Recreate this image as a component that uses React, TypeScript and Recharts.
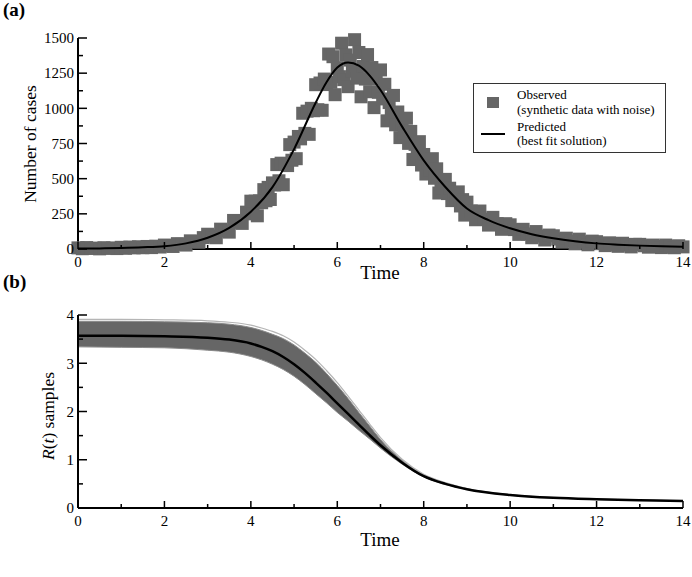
import React from 'react';
import { ComposedChart, Scatter, Line, Area, XAxis, YAxis } from 'recharts';

// panel (a): noisy observations, each row is one day sampled evenly (t = day + k/row.length)
const observedByDay = [
  [8, 2, 10, 4, 6, 1, 9, 5, 7, 3],
  [12, 5, 14, 8, 16, 9, 18, 10, 20, 14],
  [28, 23, 18, 38, 33, 28, 58, 53, 48, 81],
  [105, 92, 80, 141, 128, 120, 203, 190, 182, 262],
  [340, 250, 340, 236, 342, 329, 422, 343, 438, 352, 470, 455, 600, 485, 610, 457, 605, 593, 742, 631],
  [760, 642, 800, 783, 965, 822, 980, 815, 1000, 983, 1168, 990, 1180, 986, 1208, 1169, 1386, 1185, 1367, 1097],
  [1289, 1225, 1463, 1204, 1380, 1154, 1343, 1264, 1488, 1215, 1397, 1082, 1298, 1208, 1382, 1118, 1290, 1005, 1212, 1114],
  [1273, 1067, 1171, 911, 1041, 963, 1092, 883, 974, 792, 892, 823, 930, 751, 836, 636, 744, 676, 763, 597],
  [672, 533, 614, 560, 642, 503, 570, 398, 483, 432, 495, 394, 432, 344, 388, 349, 406, 306, 351, 241],
  [333, 270, 208, 270, 212, 170, 225, 180, 140, 180],
  [172, 138, 104, 140, 107, 80, 124, 92, 64, 99],
  [94, 71, 49, 77, 55, 37, 70, 49, 30, 56],
  [52, 38, 24, 44, 30, 19, 41, 28, 15, 33],
  [33, 23, 13, 28, 18, 10, 28, 18, 9, 23],
  [15],
];

const predictedTime = [0, 0.5, 1, 1.5, 2, 2.5, 3, 3.5, 4, 4.5, 5, 5.5, 5.75, 6, 6.25, 6.5, 6.75, 7, 7.5, 8, 8.5, 9, 9.5, 10, 10.5, 11, 11.5, 12, 12.5, 13, 13.5, 14];
const predictedCases = [3, 4, 7, 12, 20, 40, 80, 150, 265, 440, 710, 1040, 1185, 1290, 1326, 1303, 1233, 1130, 870, 630, 441, 288, 205, 147, 105, 76, 55, 40, 31, 24, 19, 16];

// panel (b): R(t) samples
const rTime = [0, 1, 2, 3, 3.5, 4, 4.25, 4.5, 4.75, 5, 5.25, 5.5, 5.75, 6, 6.25, 6.5, 6.75, 7, 7.5, 8, 8.5, 9, 10, 11, 12, 13, 14];
const rMedian = [3.57, 3.57, 3.56, 3.53, 3.49, 3.41, 3.34, 3.25, 3.13, 2.98, 2.8, 2.6, 2.39, 2.17, 1.95, 1.73, 1.51, 1.3, 0.94, 0.66, 0.5, 0.39, 0.27, 0.21, 0.18, 0.16, 0.145];
const rLow = [3.34, 3.33, 3.32, 3.27, 3.23, 3.14, 3.07, 2.98, 2.87, 2.73, 2.56, 2.37, 2.18, 1.98, 1.8, 1.61, 1.43, 1.24, 0.91, 0.645, 0.49, 0.385, 0.265, 0.207, 0.177, 0.158, 0.143];
const rHigh = [3.87, 3.87, 3.86, 3.84, 3.81, 3.74, 3.68, 3.6, 3.51, 3.38, 3.21, 3.02, 2.79, 2.54, 2.27, 1.98, 1.7, 1.42, 0.99, 0.69, 0.52, 0.4, 0.276, 0.214, 0.183, 0.162, 0.147];
const rTop = [3.91, 3.91, 3.9, 3.88, 3.85, 3.79, 3.73, 3.66, 3.57, 3.44, 3.27, 3.08, 2.85, 2.6, 2.32, 2.03, 1.74, 1.46, 1.01, 0.7, 0.525, 0.403, 0.278, 0.215, 0.184, 0.163, 0.148];

const timeTicks = [0, 1, 2, 3, 4, 5, 6, 7, 8, 9, 10, 11, 12, 13, 14];
const caseTicks = [0, 125, 250, 375, 500, 625, 750, 875, 1000, 1125, 1250, 1375, 1500];
const rTicks = [0, 0.5, 1, 1.5, 2, 2.5, 3, 3.5, 4];

const FONT = '"Liberation Serif", "Times New Roman", serif';
const GRAY = '#666666';

const observed = observedByDay.flatMap((row, day) =>
  row.map((v, k) => ({ t: day + k / row.length, cases: v }))
);
const predicted = predictedTime.map((t, i) => ({ t, cases: predictedCases[i] }));
const rData = rTime.map((t, i) => ({
  t,
  band: [rLow[i], rHigh[i]],
  med: rMedian[i],
  top: rTop[i],
}));

function XTick(props: any) {
  const { x, y, payload } = props;
  const major = payload.value % 2 === 0;
  return (
    <g>
      <line x1={x} x2={x} y1={y} y2={y - (major ? 7 : 4)} stroke="#000" strokeWidth={1.5} />
      {major && (
        <text x={x} y={y + 18} textAnchor="middle" fontSize={15} fontFamily={FONT} fill="#000">
          {payload.value}
        </text>
      )}
    </g>
  );
}

function makeYTick(step: number) {
  return function YTick(props: any) {
    const { x, y, payload } = props;
    const major = Math.abs(payload.value / step - Math.round(payload.value / step)) < 1e-6;
    return (
      <g>
        <line x1={x} x2={x + (major ? 9 : 5)} y1={y} y2={y} stroke="#000" strokeWidth={1.5} />
        {major && (
          <text x={x - 4} y={y} dy="0.35em" textAnchor="end" fontSize={15} fontFamily={FONT} fill="#000">
            {payload.value}
          </text>
        )}
      </g>
    );
  };
}

const Square = (props: any) => (
  <rect x={props.cx - 6.5} y={props.cy - 6.5} width={13} height={13} fill={GRAY} />
);

const axisLine = { stroke: '#000', strokeWidth: 2 };

export default function App() {
  return (
    <div style={{ position: 'absolute', left: 0, top: 0, width: 692, height: 577, background: '#fff', fontFamily: FONT }}>
      {/* (a) cases: observations + axes */}
      <div style={{ position: 'absolute', left: 0, top: 0 }}>
        <ComposedChart width={692} height={292} margin={{ top: 38, right: 9, bottom: 13, left: 18 }}>
          <XAxis
            type="number"
            dataKey="t"
            domain={[0, 14]}
            ticks={timeTicks}
            interval={0}
            height={30}
            tickSize={0}
            tickMargin={0}
            tick={<XTick />}
            tickLine={false}
            axisLine={axisLine}
          />
          <YAxis
            type="number"
            domain={[0, 1500]}
            ticks={caseTicks}
            interval={0}
            width={60}
            tickSize={0}
            tickMargin={0}
            tick={makeYTick(250)}
            tickLine={false}
            axisLine={axisLine}
          />
          <Scatter data={observed} dataKey="cases" shape={Square} isAnimationActive={false} />
          <text x={3} y={16} fontSize={19} fontWeight="bold" fontFamily={FONT} fill="#000">(a)</text>
          <text x={380} y={279} fontSize={19} textAnchor="middle" fontFamily={FONT} fill="#000">Time</text>
          <text
            x={30}
            y={144}
            fontSize={17.5}
            textAnchor="middle"
            dy="0.35em"
            fontFamily={FONT}
            transform="rotate(-90, 30, 144)"
            fill="#000"
          >
            Number of cases
          </text>
        </ComposedChart>
      </div>

      {/* (a) predicted curve on top of the squares, same plot box */}
      <div style={{ position: 'absolute', left: 0, top: 0 }}>
        <ComposedChart width={692} height={292} data={predicted} margin={{ top: 38, right: 9, bottom: 43, left: 78 }}>
          <XAxis type="number" dataKey="t" domain={[0, 14]} hide />
          <YAxis type="number" domain={[0, 1500]} hide />
          <Line
            dataKey="cases"
            type="monotone"
            stroke="#000"
            strokeWidth={2}
            dot={false}
            isAnimationActive={false}
          />
        </ComposedChart>
      </div>

      {/* legend */}
      <div
        style={{
          position: 'absolute',
          left: 473,
          top: 83,
          width: 191,
          height: 68,
          border: '1px solid #333',
          background: '#fff',
          fontSize: 13,
          lineHeight: '13px',
          color: '#000',
          whiteSpace: 'nowrap',
        }}
      >
        <div style={{ position: 'absolute', left: 13, top: 13, width: 12, height: 11, background: GRAY }} />
        <div style={{ position: 'absolute', left: 43, top: 4 }}>Observed</div>
        <div style={{ position: 'absolute', left: 43, top: 18.5 }}>(synthetic data with noise)</div>
        <div style={{ position: 'absolute', left: 7, top: 49, width: 24, height: 2, background: '#000' }} />
        <div style={{ position: 'absolute', left: 43, top: 35.5 }}>Predicted</div>
        <div style={{ position: 'absolute', left: 43, top: 50 }}>(best fit solution)</div>
      </div>

      {/* (b) R(t) */}
      <div style={{ position: 'absolute', left: 0, top: 270 }}>
        <ComposedChart width={692} height={307} data={rData} margin={{ top: 45, right: 9, bottom: 39, left: 18 }}>
          <XAxis
            type="number"
            dataKey="t"
            domain={[0, 14]}
            ticks={timeTicks}
            interval={0}
            height={30}
            tickSize={0}
            tickMargin={0}
            tick={<XTick />}
            tickLine={false}
            axisLine={axisLine}
          />
          <YAxis
            type="number"
            domain={[0, 4]}
            ticks={rTicks}
            interval={0}
            width={60}
            tickSize={0}
            tickMargin={0}
            tick={makeYTick(1)}
            tickLine={false}
            axisLine={axisLine}
          />
          <Area
            dataKey="band"
            type="monotone"
            fill={GRAY}
            fillOpacity={1}
            stroke="#8a8a8a"
            strokeWidth={1}
            isAnimationActive={false}
          />
          <Line dataKey="top" type="monotone" stroke="#b5b5b5" strokeWidth={1.2} dot={false} isAnimationActive={false} />
          <Line dataKey="med" type="monotone" stroke="#000" strokeWidth={2.5} dot={false} isAnimationActive={false} />
          <text x={3} y={18} fontSize={19} fontWeight="bold" fontFamily={FONT} fill="#000">(b)</text>
          <text x={380} y={276} fontSize={19} textAnchor="middle" fontFamily={FONT} fill="#000">Time</text>
          <text
            x={48}
            y={146}
            fontSize={17.5}
            textAnchor="middle"
            dy="0.35em"
            fontFamily={FONT}
            transform="rotate(-90, 48, 146)"
            fill="#000"
          >
            <tspan fontStyle="italic">R</tspan>(<tspan fontStyle="italic">t</tspan>) samples
          </text>
        </ComposedChart>
      </div>
    </div>
  );
}
